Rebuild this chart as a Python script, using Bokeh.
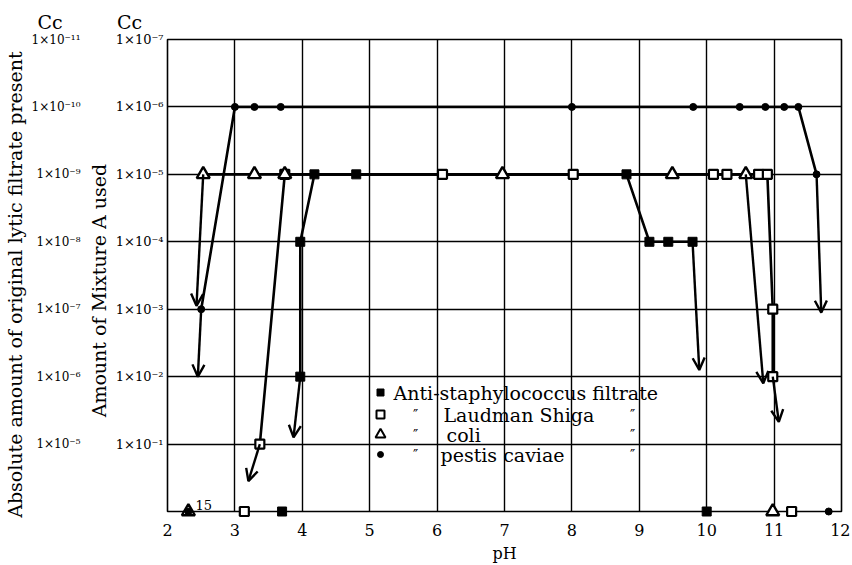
from bokeh.plotting import figure
from bokeh.models import (ColumnDataSource, FixedTicker, LinearAxis, Range1d,
                          Label, Arrow, OpenHead)
from bokeh.embed import file_html
from bokeh.resources import INLINE

# ---------------- data (pH vs log10 of cc of Mixture A used) ----------------
ph_ticks = [2, 3, 4, 5, 6, 7, 8, 9, 10, 11, 12]
level_ticks = [-7, -6, -5, -4, -3, -2, -1]
mixture_tick_labels = ["1×10⁻⁷", "1×10⁻⁶", "1×10⁻⁵", "1×10⁻⁴",
                       "1×10⁻³", "1×10⁻²", "1×10⁻¹"]
absolute_tick_labels = ["1×10⁻¹¹", "1×10⁻¹⁰", "1×10⁻⁹", "1×10⁻⁸",
                        "1×10⁻⁷", "1×10⁻⁶", "1×10⁻⁵"]
bottom_log = 0  # bottom row of the chart

# Anti-staphylococcus filtrate (filled squares)
staph_ph = [3.97, 3.97, 4.18, 4.80, 8.81, 9.15, 9.43, 9.79]
staph_log = [-2, -4, -5, -5, -5, -4, -4, -4]
staph_arrow_from_ph = [3.97, 9.79]
staph_arrow_from_log = [-2, -4]
staph_arrow_to_ph = [3.87, 9.89]
staph_arrow_to_log = [-1.1, -2.1]
staph_bottom_ph = [3.70, 10.00]

# Laudman Shiga (open squares)
shiga_ph = [3.37, 3.74, 6.08, 8.02, 10.10, 10.30, 10.77, 10.90, 10.98, 10.98]
shiga_log = [-1, -5, -5, -5, -5, -5, -5, -5, -3, -2]
shiga_arrow_from_ph = [3.37, 10.98]
shiga_arrow_from_log = [-1, -2]
shiga_arrow_to_ph = [3.20, 11.07]
shiga_arrow_to_log = [-0.45, -1.33]
shiga_bottom_ph = [3.14, 11.26]

# coli (open triangles)
coli_ph = [2.53, 3.29, 3.74, 6.97, 9.49, 10.58]
coli_log = [-5, -5, -5, -5, -5, -5]
coli_arrow_from_ph = [2.53, 10.58]
coli_arrow_from_log = [-5, -5]
coli_arrow_to_ph = [2.43, 10.84]
coli_arrow_to_log = [-3.05, -1.9]
coli_bottom_ph = [2.31, 10.98]
coli_note = "15"

# pestis caviae (filled circles)
pestis_ph = [2.50, 3.00, 3.29, 3.68, 8.00, 9.80, 10.49, 10.87, 11.15, 11.36, 11.63]
pestis_log = [-3, -6, -6, -6, -6, -6, -6, -6, -6, -6, -5]
pestis_arrow_from_ph = [2.50, 11.63]
pestis_arrow_from_log = [-3, -5]
pestis_arrow_to_ph = [2.45, 11.70]
pestis_arrow_to_log = [-2.0, -2.95]
pestis_bottom_ph = [2.31, 11.81]

legend_names = ["Anti-staphylococcus filtrate", "Laudman Shiga", "coli", "pestis caviae"]
unit_header = "Cc"

# ---------------- figure ----------------
FONT = "DejaVu Serif"
FW, FH = 674, 472
NB = "\u00a0"

p = figure(frame_width=FW, frame_height=FH,
           x_range=Range1d(2, 12), y_range=Range1d(0, -7),
           output_backend="svg", toolbar_location=None,
           min_border_left=159, min_border_top=39,
           min_border_right=9, min_border_bottom=45,
           background_fill_color="white", border_fill_color="white")

p.outline_line_color = "black"
p.outline_line_width = 1.6

# "Cc" unit headers above the two y-axis columns
p.title.text = unit_header + NB * 9 + unit_header
p.title.align = "left"
p.title.offset = -130
p.title.text_font = FONT
p.title.text_font_size = "19px"
p.title.text_font_style = "normal"
p.title.text_color = "black"
p.title.standoff = 13

for g, t in ((p.xgrid, ph_ticks), (p.ygrid, level_ticks)):
    g.ticker = FixedTicker(ticks=t)
    g.grid_line_color = "black"
    g.grid_line_width = 1.4
    g.grid_line_alpha = 1.0

def style_axis(ax):
    ax.axis_line_color = None
    ax.major_tick_in = 0
    ax.major_tick_out = 0
    ax.minor_tick_in = 0
    ax.minor_tick_out = 0
    ax.major_label_text_font = FONT
    ax.major_label_text_color = "black"
    ax.axis_label_text_font = FONT
    ax.axis_label_text_font_style = "normal"
    ax.axis_label_text_color = "black"

xa = p.xaxis[0]
style_axis(xa)
xa.ticker = FixedTicker(ticks=ph_ticks)
xa.major_label_text_font_size = "16px"
xa.major_label_standoff = 12
xa.axis_label = "pH"
xa.axis_label_text_font_size = "16px"
xa.axis_label_standoff = 5

ya = p.yaxis[0]
style_axis(ya)
ya.ticker = FixedTicker(ticks=level_ticks)
ya.major_label_overrides = {t: s for t, s in zip(level_ticks, mixture_tick_labels)}
ya.major_label_text_font_size = "13px"
ya.major_label_standoff = 4
ya.axis_label = "Amount of Mixture A used" + NB * 5
ya.axis_label_text_font_size = "19px"
ya.axis_label_standoff = 3

outer = LinearAxis(ticker=FixedTicker(ticks=level_ticks))
style_axis(outer)
outer.major_label_overrides = {t: s for t, s in zip(level_ticks, absolute_tick_labels)}
outer.major_label_text_font_size = "12px"
outer.major_label_standoff = 4
outer.axis_label = "Absolute amount of original lytic filtrate present" + NB * 3
outer.axis_label_text_font_size = "19px"
outer.axis_label_standoff = 3
p.add_layout(outer, "left")

# ---------------- series ----------------
LW = 2.6
for xs, ys in ((staph_ph, staph_log), (shiga_ph, shiga_log),
               (coli_ph, coli_log), (pestis_ph, pestis_log)):
    p.line(xs, ys, line_color="black", line_width=LW)

def arrows(x0, y0, x1, y1):
    src = ColumnDataSource(dict(x0=x0, y0=y0, x1=x1, y1=y1))
    p.add_layout(Arrow(end=OpenHead(size=12, line_width=2.4, line_color="black"),
                       x_start="x0", y_start="y0", x_end="x1", y_end="y1",
                       source=src, line_color="black", line_width=2.4))

arrows(staph_arrow_from_ph, staph_arrow_from_log, staph_arrow_to_ph, staph_arrow_to_log)
arrows(shiga_arrow_from_ph, shiga_arrow_from_log, shiga_arrow_to_ph, shiga_arrow_to_log)
arrows(coli_arrow_from_ph, coli_arrow_from_log, coli_arrow_to_ph, coli_arrow_to_log)
arrows(pestis_arrow_from_ph, pestis_arrow_from_log, pestis_arrow_to_ph, pestis_arrow_to_log)

styles = {
    "staph": dict(marker="square", size=9, fill_color="black", line_color="black", line_width=1),
    "shiga": dict(marker="square", size=9, fill_color="white", line_color="black", line_width=2.2),
    "coli": dict(marker="triangle", size=13, fill_color="white", line_color="black", line_width=2.4),
    "pestis": dict(marker="circle", size=7, fill_color="black", line_color="black", line_width=1),
}

p.scatter(staph_ph, staph_log, **styles["staph"])
p.scatter(shiga_ph, shiga_log, **styles["shiga"])
p.scatter(coli_ph, coli_log, **styles["coli"])
p.scatter(pestis_ph, pestis_log, **styles["pestis"])

# points on the bottom line (drawn unclipped)
for key, xs in (("staph", staph_bottom_ph), ("shiga", shiga_bottom_ph),
                ("coli", coli_bottom_ph), ("pestis", pestis_bottom_ph)):
    r = p.scatter(xs, [bottom_log] * len(xs), **styles[key])
    r.level = "overlay"

p.add_layout(Label(x=coli_bottom_ph[0], y=bottom_log, text=coli_note, x_offset=7, y_offset=7,
                   text_font=FONT, text_font_size="13px", text_color="black",
                   text_baseline="alphabetic"))

# ---------------- legend (hand-lettered key inside the grid) ----------------
def sx_to_x(sx):
    return 2 + sx * 10 / FW

def sy_to_y(sy):
    return -sy * 7 / FH

row_sy = [119, 97, 77, 57]
key_sx = 213
for key, sy in zip(("staph", "shiga", "coli", "pestis"), row_sy):
    st = dict(styles[key])
    st["size"] = {"staph": 7, "shiga": 8, "coli": 10, "pestis": 6}[key]
    st["line_width"] = min(st["line_width"], 2.0)
    p.scatter([sx_to_x(key_sx)], [sy_to_y(sy)], **st)

text_sx = [226, 276, 279, 273]
for name, sx, sy in zip(legend_names, text_sx, row_sy):
    p.add_layout(Label(x=sx, y=sy, x_units="screen", y_units="screen", text=name,
                       text_font=FONT, text_font_size="19px", text_color="black",
                       text_baseline="middle", text_align="left"))
for sy in row_sy[1:]:
    for sx in (248, 465):
        p.add_layout(Label(x=sx, y=sy, x_units="screen", y_units="screen", text="″",
                           text_font=FONT, text_font_size="14px", text_color="black",
                           text_baseline="middle", text_align="center"))

open("out.html", "w").write(file_html(p, INLINE))
